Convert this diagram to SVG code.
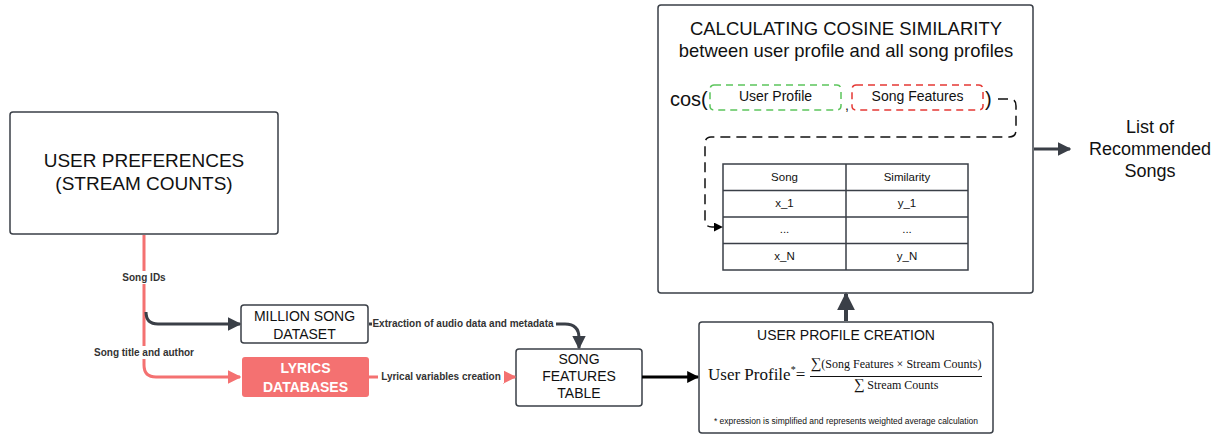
<svg xmlns="http://www.w3.org/2000/svg" width="1217" height="435" viewBox="0 0 1217 435">
<style>
.box{fill:#fff;stroke:#3a3f47;stroke-width:1.5}
.t{font-family:"Liberation Sans",Arial,sans-serif;fill:#111;text-anchor:middle}
.lbl{font-family:"Liberation Sans",Arial,sans-serif;font-weight:bold;font-size:10px;fill:#333;text-anchor:middle}
.serif{font-family:"Liberation Serif","Times New Roman",serif;fill:#111}
.dk{fill:none;stroke:#3a3f47;stroke-width:3}
.rd{fill:none;stroke:#f47171;stroke-width:3}
.grid{stroke:#3a3f47;stroke-width:1.5;fill:none}
</style>
<defs>
<marker id="ad" viewBox="0 0 10 10" refX="9" refY="5" markerWidth="4.5" markerHeight="4.5" orient="auto" markerUnits="strokeWidth"><path d="M0,0 L10,5 L0,10 z" fill="#3a3f47"/></marker>
<marker id="ar" viewBox="0 0 10 10" refX="9" refY="5" markerWidth="4.5" markerHeight="4.5" orient="auto" markerUnits="strokeWidth"><path d="M0,0 L10,5 L0,10 z" fill="#f47171"/></marker>
<marker id="ab" viewBox="0 0 10 10" refX="9" refY="5" markerWidth="4" markerHeight="4" orient="auto" markerUnits="strokeWidth"><path d="M0,0 L10,5 L0,10 z" fill="#000"/></marker>
<marker id="as" viewBox="0 0 10 10" refX="9" refY="5" markerWidth="6" markerHeight="6" orient="auto" markerUnits="strokeWidth"><path d="M0,0 L10,5 L0,10 z" fill="#000"/></marker>
</defs>
<rect width="1217" height="435" fill="#fff"/>

<g id="user-preferences">
  <rect class="box" x="10" y="112" width="268" height="122" rx="3"/>
  <text class="t" x="144" y="167" font-size="19">USER PREFERENCES</text>
  <text class="t" x="144" y="190" font-size="19">(STREAM COUNTS)</text>
</g>

<g id="million-song-dataset">
  <rect class="box" x="241" y="305" width="127" height="38" rx="3"/>
  <text class="t" x="304.5" y="321" font-size="14">MILLION SONG</text>
  <text class="t" x="304.5" y="339" font-size="14">DATASET</text>
</g>

<g id="lyrics-databases">
  <rect x="242" y="357" width="127" height="40" rx="3" fill="#f47171"/>
  <text class="t" x="305.5" y="373" font-size="14" font-weight="bold" style="fill:#fff">LYRICS</text>
  <text class="t" x="305.5" y="392" font-size="14" font-weight="bold" style="fill:#fff">DATABASES</text>
</g>

<g id="song-features-table">
  <rect class="box" x="516" y="349" width="126" height="57" rx="3"/>
  <text class="t" x="579" y="364" font-size="14">SONG</text>
  <text class="t" x="579" y="381" font-size="14">FEATURES</text>
  <text class="t" x="579" y="398" font-size="14">TABLE</text>
</g>

<g id="user-profile-creation">
  <rect class="box" x="699" y="322" width="294" height="111" rx="3"/>
  <text class="t" x="846" y="340" font-size="14">USER PROFILE CREATION</text>
  <text class="serif" x="708" y="380" font-size="17">User Profile<tspan font-size="10" dy="-7">*</tspan><tspan dy="7">=</tspan></text>
  <text class="serif" x="896" y="368" font-size="12" text-anchor="middle"><tspan font-size="15">∑</tspan>(Song Features × Stream Counts)</text>
  <line x1="810" y1="376.5" x2="982" y2="376.5" stroke="#111" stroke-width="1"/>
  <text class="serif" x="896" y="389" font-size="12" text-anchor="middle"><tspan font-size="15">∑</tspan> Stream Counts</text>
  <text class="t" x="846" y="424" font-size="8.5">* expression is simplified and represents weighted average calculation</text>
</g>

<g id="cosine-similarity">
  <rect class="box" x="658" y="5" width="375" height="288" rx="3"/>
  <text class="t" x="846" y="35" font-size="18.5">CALCULATING COSINE SIMILARITY</text>
  <text class="t" x="846" y="57" font-size="18.4">between user profile and all song profiles</text>
  <text x="670" y="106" font-size="20" font-family="Liberation Sans,Arial,sans-serif" fill="#111">cos(</text>
  <rect x="710" y="85" width="131" height="25" rx="4" fill="none" stroke="#5cc55c" stroke-width="1.5" stroke-dasharray="7,5"/>
  <text class="t" x="775.5" y="101" font-size="14">User Profile</text>
  <text x="845" y="110" font-size="14" font-family="Liberation Sans,Arial,sans-serif" fill="#111">,</text>
  <rect x="852" y="85" width="131" height="25" rx="4" fill="none" stroke="#e53935" stroke-width="1.5" stroke-dasharray="7,5"/>
  <text class="t" x="917.5" y="101" font-size="14">Song Features</text>
  <text x="985" y="106" font-size="20" font-family="Liberation Sans,Arial,sans-serif" fill="#111">)</text>
  <g id="similarity-table">
    <rect x="723" y="164" width="245" height="106" fill="#fff" class="grid"/>
    <path class="grid" d="M723,190.5 H968 M723,217 H968 M723,243.5 H968 M846,164 V270"/>
    <text class="t" x="784.5" y="181" font-size="11.5">Song</text>
    <text class="t" x="907" y="181" font-size="11.5">Similarity</text>
    <text class="t" x="784.5" y="207" font-size="11.5">x_1</text>
    <text class="t" x="907" y="207" font-size="11.5">y_1</text>
    <text class="t" x="784.5" y="233" font-size="11.5">...</text>
    <text class="t" x="907" y="233" font-size="11.5">...</text>
    <text class="t" x="784.5" y="260" font-size="11.5">x_N</text>
    <text class="t" x="907" y="260" font-size="11.5">y_N</text>
  </g>
</g>

<g id="recommended-songs">
  <text class="t" x="1150" y="133" font-size="18">List of</text>
  <text class="t" x="1150" y="155" font-size="18">Recommended</text>
  <text class="t" x="1150" y="177" font-size="18">Songs</text>
</g>

<g id="connectors">
  <path class="rd" d="M144,235 V365 Q144,377 156,377 H240" marker-end="url(#ar)"/>
  <path class="dk" d="M146,312 Q146,324 158,324 H240" marker-end="url(#ad)"/>
  <rect x="106" y="271" width="76" height="13" fill="#fff"/>
  <text class="lbl" x="144" y="281">Song IDs</text>
  <rect x="92" y="346" width="104" height="13" fill="#fff"/>
  <text class="lbl" x="144" y="356">Song title and author</text>
  <path class="dk" d="M369,324 H565 Q579,324 579,338 V348" marker-end="url(#ad)"/>
  <rect x="372" y="317" width="184" height="13" fill="#fff"/>
  <text class="lbl" x="463" y="327">Extraction of audio data and metadata</text>
  <path class="rd" d="M369,377 H515" marker-end="url(#ar)"/>
  <rect x="378" y="370" width="126" height="13" fill="#fff"/>
  <text class="lbl" x="441" y="380">Lyrical variables creation</text>
  <path d="M642,377 H698" fill="none" stroke="#000" stroke-width="3" marker-end="url(#ab)"/>
  <path class="dk" d="M846,321 V294" marker-end="url(#ad)" style="stroke-width:4"/>
  <path class="dk" d="M1034,149 H1070" marker-end="url(#ad)"/>
  <path d="M998,99 H1010 Q1016,99 1016,106 V130 Q1016,137 1009,137 H711 Q705,137 705,144 V220 Q705,227 712,227 H722" fill="none" stroke="#111" stroke-width="1.5" stroke-dasharray="10,6" marker-end="url(#as)"/>
</g>
</svg>
